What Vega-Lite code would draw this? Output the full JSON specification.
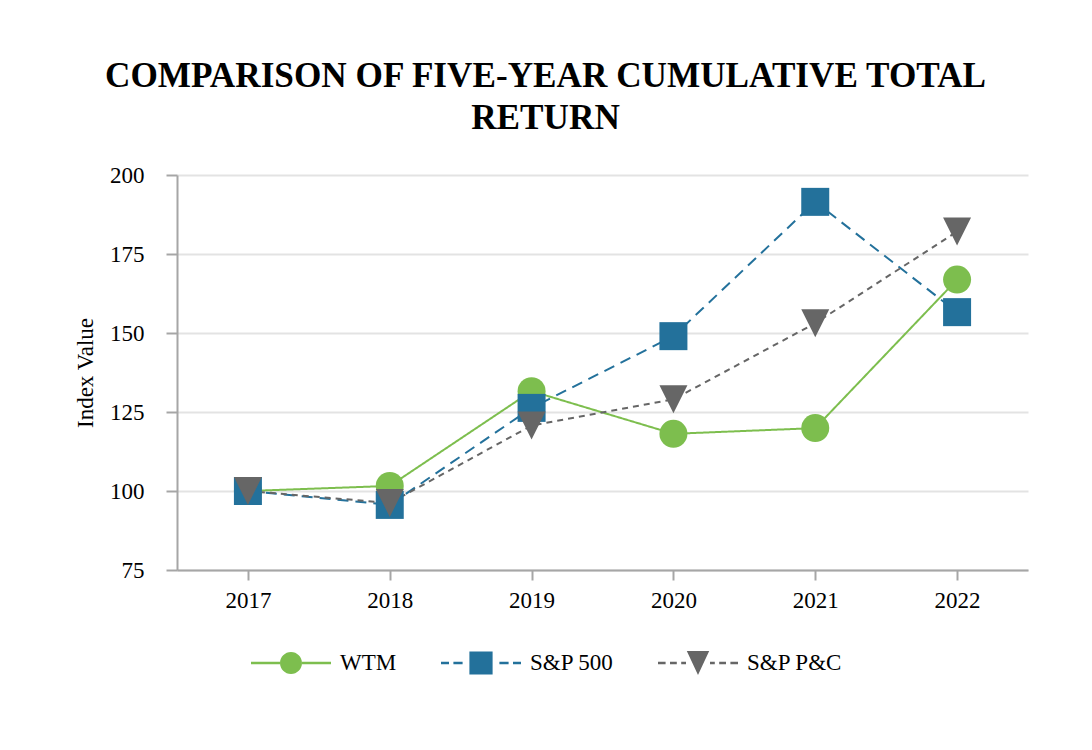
{
  "$schema": "https://vega.github.io/schema/vega-lite/v6.json",
  "autosize": {"type": "none"},
  "width": 851,
  "height": 395,
  "padding": {"left": 177, "top": 175, "right": 64, "bottom": 180},
  "background": "white",
  "config": {
    "font": "Liberation Serif",
    "view": {"stroke": null}
  },
  "title": {
    "text": ["COMPARISON OF FIVE-YEAR CUMULATIVE TOTAL", "RETURN"],
    "font": "Liberation Serif",
    "fontSize": 35.2,
    "fontWeight": "bold",
    "color": "#000000",
    "anchor": "middle",
    "frame": "group",
    "dx": -57,
    "offset": 28,
    "lineHeight": 42
  },
  "data": {
    "values": [
      {"year": "2017", "series": "WTM", "value": 100},
      {"year": "2018", "series": "WTM", "value": 101.6},
      {"year": "2019", "series": "WTM", "value": 131.6},
      {"year": "2020", "series": "WTM", "value": 118.1},
      {"year": "2021", "series": "WTM", "value": 119.9},
      {"year": "2022", "series": "WTM", "value": 166.9},
      {"year": "2017", "series": "S&P 500", "value": 100},
      {"year": "2018", "series": "S&P 500", "value": 95.6},
      {"year": "2019", "series": "S&P 500", "value": 126.3},
      {"year": "2020", "series": "S&P 500", "value": 149.0},
      {"year": "2021", "series": "S&P 500", "value": 191.5},
      {"year": "2022", "series": "S&P 500", "value": 156.6},
      {"year": "2017", "series": "S&P P&C", "value": 100},
      {"year": "2018", "series": "S&P P&C", "value": 96.2},
      {"year": "2019", "series": "S&P P&C", "value": 120.7},
      {"year": "2020", "series": "S&P P&C", "value": 129.0},
      {"year": "2021", "series": "S&P P&C", "value": 153.1},
      {"year": "2022", "series": "S&P P&C", "value": 182.1}
    ]
  },
  "encoding": {
    "x": {
      "field": "year",
      "type": "ordinal",
      "sort": null,
      "scale": {"type": "point", "padding": 0.5},
      "axis": {
        "title": null,
        "labelAngle": 0,
        "domainColor": "#a6a6a6",
        "domainWidth": 2,
        "tickColor": "#a6a6a6",
        "tickWidth": 2,
        "tickSize": 10,
        "labelPadding": 9,
        "labelFont": "Liberation Serif",
        "labelFontSize": 23,
        "labelColor": "#000000",
        "grid": false
      }
    },
    "y": {
      "field": "value",
      "type": "quantitative",
      "scale": {"domain": [75, 200], "nice": false, "zero": false},
      "axis": {
        "title": "Index Value",
        "values": [75, 100, 125, 150, 175, 200],
        "domainColor": "#a6a6a6",
        "domainWidth": 2,
        "tickColor": "#a6a6a6",
        "tickWidth": 2,
        "tickSize": 11,
        "labelPadding": 22,
        "labelFont": "Liberation Serif",
        "labelFontSize": 23,
        "labelColor": "#000000",
        "titleFont": "Liberation Serif",
        "titleFontSize": 23,
        "titleFontWeight": "normal",
        "titleColor": "#000000",
        "titlePadding": 12,
        "grid": true,
        "gridColor": "#e3e3e3",
        "gridWidth": 2
      }
    }
  },
  "layer": [
    {
      "mark": {"type": "line", "strokeWidth": 2},
      "encoding": {
        "color": {
          "field": "series",
          "type": "nominal",
          "scale": {"domain": ["WTM", "S&P 500", "S&P P&C"], "range": ["#7dbe4e", "#23719b", "#666666"]},
          "legend": null
        },
        "strokeDash": {
          "field": "series",
          "type": "nominal",
          "scale": {"domain": ["WTM", "S&P 500", "S&P P&C"], "range": [[1, 0], [11, 7], [6, 5]]},
          "legend": null
        }
      }
    },
    {
      "mark": {"type": "point", "filled": true, "opacity": 1, "size": 784, "strokeWidth": 0},
      "encoding": {
        "color": {
          "field": "series",
          "type": "nominal",
          "scale": {"domain": ["WTM", "S&P 500", "S&P P&C"], "range": ["#7dbe4e", "#23719b", "#666666"]},
          "legend": null
        },
        "shape": {
          "field": "series",
          "type": "nominal",
          "scale": {"domain": ["WTM", "S&P 500", "S&P P&C"], "range": ["circle", "square", "M-1,-1H1L0,1Z"]},
          "legend": null
        }
      }
    },
    {
      "mark": {"type": "point", "filled": true, "opacity": 0},
      "encoding": {
        "color": {
          "field": "series",
          "type": "nominal",
          "scale": {"domain": ["WTM", "S&P 500", "S&P P&C"], "range": ["#7dbe4e", "#23719b", "#666666"]},
          "legend": {
            "orient": "none",
            "legendX": 74,
            "legendY": 448,
            "direction": "horizontal",
            "title": null,
            "symbolSize": 6400,
            "symbolStrokeWidth": 0,
            "symbolOpacity": 1,
            "labelFont": "Liberation Serif",
            "labelFontSize": 23,
            "labelColor": "#000000",
            "labelOffset": 9,
            "columnPadding": 44,
            "padding": 0
          }
        },
        "shape": {
          "field": "series",
          "type": "nominal",
          "scale": {
            "domain": ["WTM", "S&P 500", "S&P P&C"],
            "range": [
              "M-1,-0.03H-0.275V0.03H-1Z M0.275,-0.03H1V0.03H0.275Z M-0.275,0A0.275,0.275 0 1,0 0.275,0A0.275,0.275 0 1,0 -0.275,0Z",
              "M-1,-0.03H-0.8V0.03H-1Z M-0.69,-0.03H-0.46V0.03H-0.69Z M0.46,-0.03H0.69V0.03H0.46Z M0.8,-0.03H1V0.03H0.8Z M-0.29,-0.29H0.29V0.29H-0.29Z",
              "M-1,-0.03H-0.81V0.03H-1Z M-0.7,-0.03H-0.53V0.03H-0.7Z M-0.42,-0.03H-0.3V0.03H-0.42Z M0.3,-0.03H0.42V0.03H0.3Z M0.53,-0.03H0.7V0.03H0.53Z M0.81,-0.03H1V0.03H0.81Z M-0.28,-0.3H0.28L0,0.3Z"
            ]
          },
          "legend": {
            "orient": "none",
            "legendX": 74,
            "legendY": 448,
            "direction": "horizontal",
            "title": null,
            "symbolSize": 6400,
            "symbolStrokeWidth": 0,
            "symbolOpacity": 1,
            "labelFont": "Liberation Serif",
            "labelFontSize": 23,
            "labelColor": "#000000",
            "labelOffset": 9,
            "columnPadding": 44,
            "padding": 0
          }
        }
      }
    }
  ],
  "resolve": {"scale": {"color": "independent", "shape": "independent", "strokeDash": "independent"}}
}
